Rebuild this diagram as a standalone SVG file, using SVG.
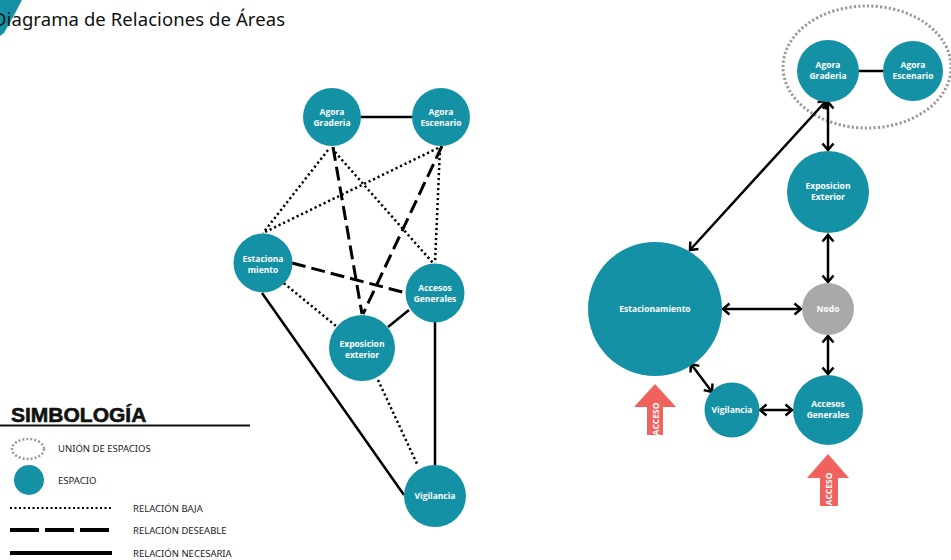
<svg xmlns="http://www.w3.org/2000/svg" width="951" height="560" viewBox="0 0 951 560">
<style>
.node{fill:#1591a6}
.nodo{fill:#a9a9a9}
.lbl{font-family:"Open Sans","Noto Sans",sans-serif;font-weight:700;font-size:8.5px;fill:#ffffff;text-anchor:middle}
.solid{stroke:#000;stroke-width:2.5;fill:none}
.dot{stroke:#000;stroke-width:2.5;fill:none;stroke-dasharray:2.2 2.8}
.dash{stroke:#000;stroke-width:3;fill:none;stroke-dasharray:14 6}
.arr{stroke:#000;stroke-width:2.5;fill:none;marker-start:url(#ah);marker-end:url(#ah)}
.leg{font-family:"Noto Sans","Liberation Sans",sans-serif;font-size:9.5px;fill:#222}
.acc{fill:#f0625e}
.acct{font-family:"Open Sans","Noto Sans",sans-serif;font-weight:700;font-size:8.5px;fill:#fff;text-anchor:middle}
</style>
<defs>
<marker id="ah" markerUnits="userSpaceOnUse" markerWidth="14" markerHeight="14" refX="8" refY="7" orient="auto-start-reverse" viewBox="0 0 14 14">
<path d="M1.5,1.5 L8,7 L1.5,12.5" fill="none" stroke="#000" stroke-width="2.5"/>
</marker>
</defs>
<rect width="951" height="560" fill="#ffffff"/>

<g id="title">
<path d="M0,0 L22,0 Q14,16 4,33 L0,36 Z" fill="#1591a6"/>
<text x="-7" y="26" font-family="'Noto Sans','Liberation Sans',sans-serif" font-size="18.5" fill="#111" textLength="292" lengthAdjust="spacing">Diagrama de Relaciones de Áreas</text>
</g>

<g id="connectors">
<!-- left diagram -->
<line class="solid" x1="360" y1="117" x2="413" y2="117"/>
<line class="dot" x1="328" y1="150" x2="263" y2="233"/>
<line class="dot" x1="438" y1="148" x2="265" y2="232"/>
<line class="dot" x1="335" y1="152" x2="433" y2="263"/>
<line class="dot" x1="440" y1="148" x2="435" y2="263"/>
<line class="dash" x1="333" y1="147" x2="362" y2="314"/>
<line class="dash" x1="442" y1="146" x2="363" y2="314"/>
<line class="dash" x1="292" y1="263" x2="406" y2="293"/>
<line class="dot" x1="280" y1="280" x2="336" y2="326"/>
<line class="solid" x1="262" y1="293" x2="404" y2="495"/>
<line class="solid" x1="388" y1="327" x2="409" y2="310"/>
<line class="dot" x1="378" y1="380" x2="418" y2="466"/>
<line class="solid" x1="435" y1="322" x2="435" y2="465"/>
<!-- right diagram -->
<ellipse cx="867" cy="67" rx="84" ry="61" fill="none" stroke="#9a9a9a" stroke-width="3" stroke-dasharray="2.2 2.2"/>
<line class="solid" x1="858" y1="71" x2="884" y2="71"/>
<line class="arr" x1="690" y1="250" x2="826" y2="101"/>
<line class="arr" x1="828" y1="102" x2="828" y2="150"/>
<line class="arr" x1="828" y1="235" x2="828" y2="282"/>
<line class="arr" x1="723" y1="309" x2="801" y2="309"/>
<line class="arr" x1="828" y1="336" x2="828" y2="374"/>
<line class="arr" x1="691" y1="364" x2="712" y2="392"/>
<line class="arr" x1="760" y1="410" x2="792" y2="410"/>
</g>

<!-- left nodes -->
<g id="l-graderia"><circle class="node" cx="332" cy="117" r="29"/><text class="lbl" x="332" y="115">Agora</text><text class="lbl" x="332" y="126">Graderia</text></g>
<g id="l-escenario"><circle class="node" cx="441" cy="117" r="29"/><text class="lbl" x="441" y="115">Agora</text><text class="lbl" x="441" y="126">Escenario</text></g>
<g id="l-estacionamiento"><circle class="node" cx="263" cy="263" r="29.5"/><text class="lbl" x="263" y="262">Estaciona</text><text class="lbl" x="263" y="273">miento</text></g>
<g id="l-accesos"><circle class="node" cx="435" cy="293" r="29.5"/><text class="lbl" x="435" y="291">Accesos</text><text class="lbl" x="435" y="302">Generales</text></g>
<g id="l-exposicion"><circle class="node" cx="362" cy="348" r="33"/><text class="lbl" x="362" y="347">Exposicion</text><text class="lbl" x="362" y="358">exterior</text></g>
<g id="l-vigilancia"><circle class="node" cx="435" cy="496" r="31"/><text class="lbl" x="435" y="499">Vigilancia</text></g>

<!-- right nodes -->
<g id="r-graderia"><circle class="node" cx="828" cy="71" r="31"/><text class="lbl" x="828" y="68">Agora</text><text class="lbl" x="828" y="79">Graderia</text></g>
<g id="r-escenario"><circle class="node" cx="913" cy="71" r="30"/><text class="lbl" x="913" y="68">Agora</text><text class="lbl" x="913" y="79">Escenario</text></g>
<g id="r-exposicion"><circle class="node" cx="828" cy="192" r="41"/><text class="lbl" x="828" y="189">Exposicion</text><text class="lbl" x="828" y="200">Exterior</text></g>
<g id="r-nodo"><circle class="nodo" cx="828" cy="309" r="26"/><text class="lbl" x="828" y="312">Nodo</text></g>
<g id="r-estacionamiento"><circle class="node" cx="655" cy="309" r="67"/><text class="lbl" x="655" y="312">Estacionamiento</text></g>
<g id="r-vigilancia"><circle class="node" cx="732" cy="410" r="27.5"/><text class="lbl" x="732" y="413">Vigilancia</text></g>
<g id="r-accesos"><circle class="node" cx="828" cy="410" r="35"/><text class="lbl" x="828" y="407">Accesos</text><text class="lbl" x="828" y="418">Generales</text></g>

<g id="acceso-1"><polygon class="acc" points="655,384 676,407 663,407 663,435 647,435 647,407 634,407"/><text class="acct" transform="translate(659,419) rotate(-90)">ACCESO</text></g>
<g id="acceso-2"><polygon class="acc" points="828,454 849,478 838,478 838,506 820,506 820,478 807,478"/><text class="acct" transform="translate(832,489) rotate(-90)">ACCESO</text></g>

<g id="legend">
<text x="11" y="422" font-family="'Liberation Sans',sans-serif" font-weight="700" font-size="21" fill="#111" stroke="#111" stroke-width="0.6">SIMBOLOGÍA</text>
<line x1="0" y1="425.5" x2="250" y2="425.5" stroke="#111" stroke-width="2"/>
<ellipse cx="28" cy="449" rx="16" ry="10" fill="none" stroke="#9a9a9a" stroke-width="2.5" stroke-dasharray="2 2"/>
<text class="leg" x="58" y="452">UNIÓN DE ESPACIOS</text>
<circle class="node" cx="29" cy="480" r="15"/>
<text class="leg" x="58" y="484">ESPACIO</text>
<line x1="10" y1="508" x2="112" y2="508" stroke="#000" stroke-width="2" stroke-dasharray="2 2.5"/>
<text class="leg" x="133" y="512">RELACIÓN BAJA</text>
<line x1="10" y1="530" x2="110" y2="530" stroke="#000" stroke-width="4" stroke-dasharray="29 6"/>
<text class="leg" x="133" y="534">RELACIÓN DESEABLE</text>
<line x1="10" y1="553" x2="112" y2="553" stroke="#000" stroke-width="4"/>
<text class="leg" x="133" y="557">RELACIÓN NECESARIA</text>
</g>
</svg>
